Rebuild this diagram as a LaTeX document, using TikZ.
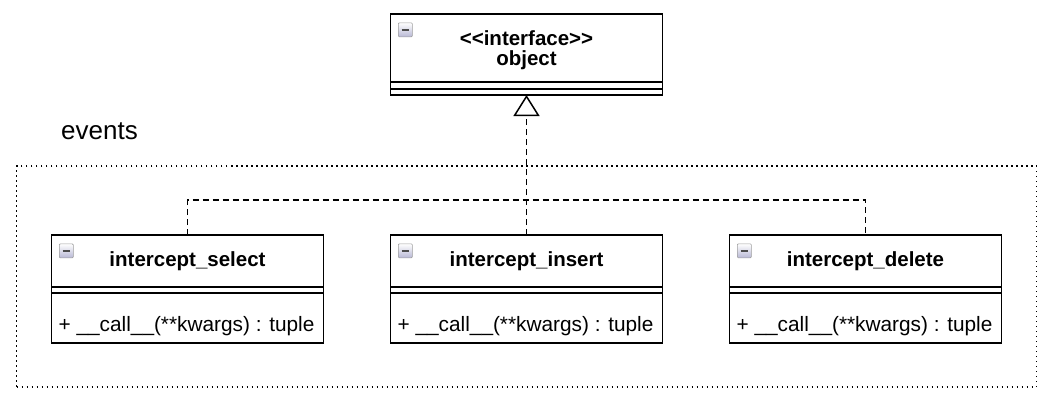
\documentclass[tikz,border=0pt]{standalone}
\usepackage{fontspec}
\setmainfont{Liberation Sans}
\usetikzlibrary{
	positioning,
	arrows.meta
}
\newcommand{\minusicon}[1]{%
	\node[iconbox, anchor=north west] (#1-icon) at ([shift={(7.5pt,-8.5pt)}]#1.north west) {};}

\begin{document}
\begin{tikzpicture}[
			x=1pt, y=-1pt,
			classhead/.style={
				draw,
				line width=1.5pt,
				fill=white,
				minimum width=272pt,
				inner sep=0pt,
				outer sep=0pt,
				align=center,
				font=\bfseries\fontsize{20.5}{20}\selectfont
			},
			classpart/.style={
				draw,
				line width=1.5pt,
				fill=white,
				minimum width=272pt,
				inner sep=0pt,
				outer sep=0pt
			},
			optext/.style={anchor=base west, inner sep=0pt, font=\fontsize{20.8}{24}\selectfont},
			iconbox/.style={
				draw=gray!75,
				line width=0.7pt,
				rounded corners=1pt,
				minimum size=14pt,
				inner sep=0pt,
				top color=white,
				bottom color=blue!25!gray!45,
				path picture={\draw[line width=2.4pt, black!70]
					([xshift=3.2pt]path picture bounding box.west) --
					([xshift=-3.2pt]path picture bounding box.east);}
			},
			realize/.style={line width=1.5pt, dash pattern=on 6pt off 4pt},
			package/.style={draw, line width=1.5pt, dash pattern=on 1.5pt off 3.5pt}
			]
			
			\useasboundingbox (0,0) rectangle (1050,400);
			
			% package frame
			\node[package, minimum width=1020pt, minimum height=221pt, inner sep=0pt] (events) at (526.5,276.5) {};
			\node[anchor=base west, inner sep=0pt, font=\fontsize{26}{30}\selectfont] (eventslabel) at (61,139) {events};
			
			% interface
			\node[classhead, minimum height=68pt, text depth=0pt] (obj) at (526.5,48)
			{<\kern0pt<interface>\kern0pt>\\object};
			\node[classpart, minimum height=7pt, below=0pt of obj] (obj-attr) {};
			\node[classpart, minimum height=6pt, below=0pt of obj-attr] (obj-ops) {};
			\minusicon{obj}
			
			% classes
			\node[classhead, minimum height=52pt, below=140pt of obj-ops] (insert) {intercept\_insert};
			\node[classhead, minimum height=52pt, left=67pt of insert] (select) {intercept\_select};
			\node[classhead, minimum height=52pt, right=67pt of insert] (delete) {intercept\_delete};
			
			\foreach \cls in {select,insert,delete} {
				\node[classpart, minimum height=6pt, below=0pt of \cls] (\cls-attr) {};
				\node[classpart, minimum height=50pt, below=0pt of \cls-attr] (\cls-ops) {};
				\node[optext] (\cls-call) at ([shift={(7pt,-38pt)}]\cls-ops.north west)
				{+ \_\_call\_\_(**kwargs) : tuple};
				\minusicon{\cls}
			}
			
			% realizations
			\coordinate (join) at (insert.north |- 0,200);
			\draw[realize] (select.north) |- (join) -| (delete.north);
			\draw[realize,-{Triangle[open,length=21pt,width=26pt,line width=1.5pt]}] (insert.north)--(obj-ops.south);
			
		\end{tikzpicture}
\end{document}
